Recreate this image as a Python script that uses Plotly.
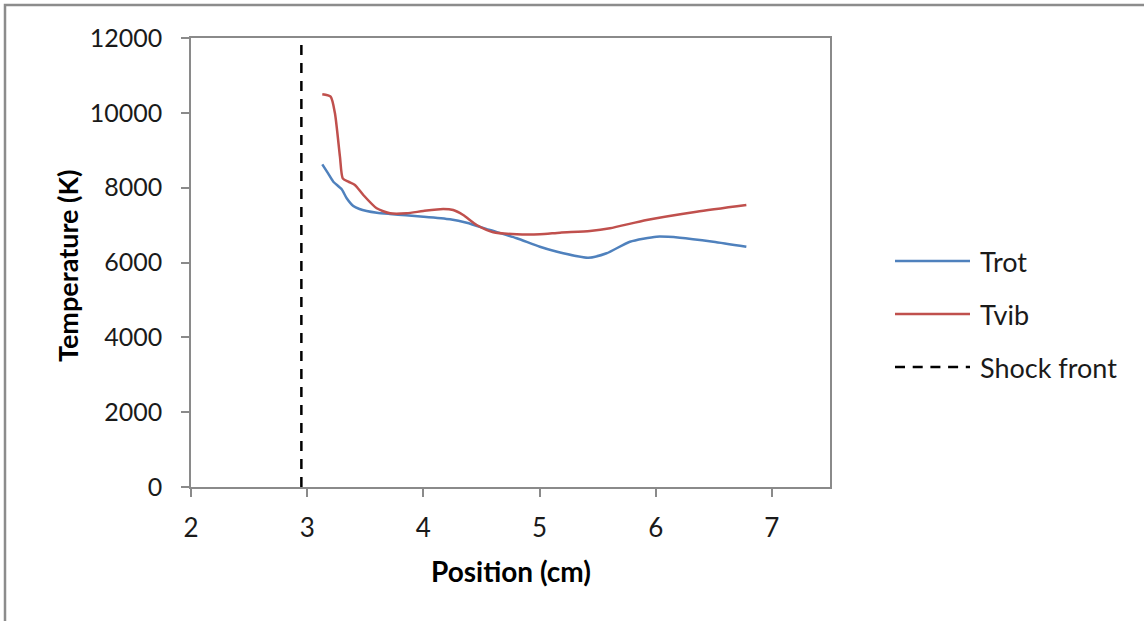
import plotly.graph_objects as go

# Rotational and vibrational temperature profiles behind the shock
pos_trot = [3.13, 3.18, 3.225, 3.297, 3.34, 3.397, 3.45, 3.512, 3.6, 3.713, 3.85, 4.0,
            4.229, 4.373, 4.573, 4.803, 5.003, 5.204, 5.419, 5.577, 5.778, 6.008, 6.208,
            6.495, 6.78]
t_rot = [8624, 8380, 8160, 7956, 7716, 7510, 7430, 7376, 7330, 7296, 7260, 7224,
         7155, 7064, 6868, 6647, 6422, 6246, 6128, 6246, 6556, 6690, 6663,
         6556, 6422]

pos_tvib = [3.13, 3.202, 3.239, 3.282, 3.306, 3.354, 3.411, 3.483, 3.598, 3.713, 3.856,
            3.999, 4.171, 4.257, 4.343, 4.459, 4.602, 4.803, 5.003, 5.176, 5.434, 5.606,
            5.922, 6.352, 6.78]
t_vib = [10495, 10431, 9988, 8828, 8250, 8160, 8071, 7804, 7448, 7315, 7315,
         7376, 7430, 7403, 7269, 7002, 6807, 6754, 6754, 6797, 6842, 6914,
         7136, 7358, 7537]

shock_pos = 2.95
shock_span = [0, 12000]

x_ticks = [2, 3, 4, 5, 6, 7]
y_ticks = [0, 2000, 4000, 6000, 8000, 10000, 12000]

series_names = ["Trot", "Tvib", "Shock front"]
colors = ["#4F81BD", "#C0504D", "#000000"]

W, H = 1144, 621
L, R, T, B = 191, 830, 38, 487  # plot area in pixels


def fx(p):
    return (p - L) / (R - L)


def fy(p):
    return (B - p) / (B - T)


FONT = "Lato, 'Open Sans', sans-serif"
TXT = "#1a1a1a"
AXIS = "#8a8a8a"

fig = go.Figure()
fig.add_trace(go.Scatter(x=pos_trot, y=t_rot, mode="lines", name=series_names[0],
                         line=dict(color=colors[0], width=2.5, shape="spline", smoothing=0.6),
                         showlegend=False))
fig.add_trace(go.Scatter(x=pos_tvib, y=t_vib, mode="lines", name=series_names[1],
                         line=dict(color=colors[1], width=2.5, shape="spline", smoothing=0.6),
                         showlegend=False))
fig.add_trace(go.Scatter(x=[shock_pos, shock_pos], y=shock_span, mode="lines",
                         name=series_names[2],
                         line=dict(color=colors[2], width=2.5, dash="10px,8px"),
                         showlegend=False))

shapes = [
    # outer chart frame
    dict(type="rect", xref="paper", yref="paper",
         x0=fx(5), x1=fx(W + 20), y0=fy(5), y1=fy(H + 20),
         line=dict(color="#8c8c8c", width=2.5), layer="below"),
]
annotations = []

# legend entries
legend_rows = [261, 314, 367]
dashes = ["solid", "solid", "10px,7.7px"]
for name, col, yrow, d in zip(series_names, colors, legend_rows, dashes):
    shapes.append(dict(type="line", xref="paper", yref="paper",
                       x0=fx(895), x1=fx(970), y0=fy(yrow), y1=fy(yrow),
                       line=dict(color=col, width=2.5, dash=d)))
    annotations.append(dict(xref="paper", yref="paper", x=fx(978), y=fy(yrow),
                            text=name, showarrow=False, xanchor="left", yanchor="middle",
                            font=dict(family=FONT, size=27, color=TXT)))

# axis titles
annotations.append(dict(xref="paper", yref="paper", x=0.5, y=fy(571),
                        text="<b>Position (cm)</b>", showarrow=False,
                        xanchor="center", yanchor="middle",
                        font=dict(family=FONT, size=28, color="#000000")))
annotations.append(dict(xref="paper", yref="paper", x=fx(67), y=fy(266),
                        text="<b>Temperature (K)</b>", showarrow=False, textangle=-90,
                        xanchor="center", yanchor="middle",
                        font=dict(family=FONT, size=27, color="#000000")))

fig.update_layout(
    width=W, height=H,
    margin=dict(l=L, r=W - R, t=T, b=H - B, pad=0),
    paper_bgcolor="white", plot_bgcolor="white",
    shapes=shapes, annotations=annotations,
    showlegend=False,
    xaxis=dict(range=[2, 7.5], tickvals=x_ticks, ticktext=[str(v) for v in x_ticks],
               showgrid=False, zeroline=False, showline=True, linecolor=AXIS, linewidth=1.5,
               mirror=True, ticks="outside", ticklen=8, tickcolor=AXIS, tickwidth=1.5,
               ticklabelstandoff=9,
               tickfont=dict(family=FONT, size=26, color=TXT)),
    yaxis=dict(range=[0, 12000], tickvals=y_ticks, ticktext=[str(v) for v in y_ticks],
               showgrid=False, zeroline=False, showline=True, linecolor=AXIS, linewidth=1.5,
               mirror=True, ticks="outside", ticklen=8, tickcolor=AXIS, tickwidth=1.5,
               ticklabelstandoff=14,
               tickfont=dict(family=FONT, size=25, color=TXT)),
)

fig.write_html("out.html")
